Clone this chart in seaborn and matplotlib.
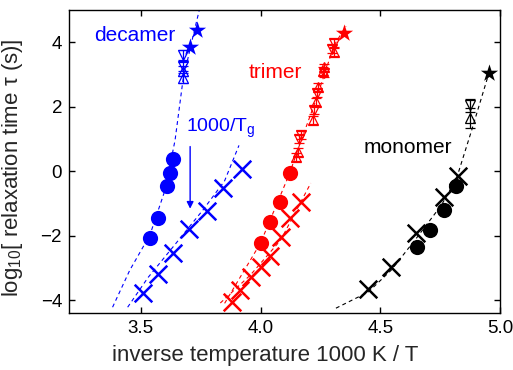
import numpy as np
import matplotlib
matplotlib.use('Agg')
import matplotlib.pyplot as plt
import seaborn as sns
import pandas as pd

sns.set_style('ticks')
plt.rcParams['font.family'] = ['Liberation Sans', 'DejaVu Sans']
plt.rcParams['mathtext.fontset'] = 'custom'
plt.rcParams['mathtext.rm'] = 'Liberation Sans'
plt.rcParams['mathtext.it'] = 'Liberation Sans:italic'

# ---- decamer (blue) ----
dec_star_x = [3.735, 3.706]
dec_star_y = [4.37, 3.85]
dec_down_x = [3.676, 3.676]
dec_down_y = [3.60, 3.25]
dec_down_err = [0.15, 0.15]
dec_up_x = [3.676, 3.676]
dec_up_y = [3.10, 2.88]
dec_up_err = [0.15, 0.15]
dec_circ_x = [3.634, 3.622, 3.609, 3.571, 3.538]
dec_circ_y = [0.37, -0.06, -0.47, -1.46, -2.08]
dec_x_x = [3.924, 3.845, 3.777, 3.702, 3.634, 3.571, 3.508]
dec_x_y = [0.06, -0.53, -1.24, -1.80, -2.54, -3.19, -3.78]
dec_fit_x = [3.382, 3.454, 3.538, 3.601, 3.643, 3.676, 3.714, 3.744]
dec_fit_y = [-4.22, -3.07, -1.98, -0.59, 0.96, 2.82, 4.06, 4.99]
dec_xfit_x = [3.445, 3.53, 3.64, 3.76, 3.85, 3.91]
dec_xfit_y = [-4.22, -3.3, -2.3, -1.2, -0.3, 0.8]

# ---- trimer (red) ----
tri_star_x = [4.349]
tri_star_y = [4.28]
tri_down_x = [4.307, 4.300, 4.265, 4.235, 4.223, 4.168, 4.160]
tri_down_y = [3.97, 3.80, 3.04, 2.42, 1.89, 1.12, 1.00]
tri_up_x = [4.307, 4.265, 4.260, 4.239, 4.231, 4.218, 4.155, 4.150]
tri_up_y = [3.69, 3.22, 3.10, 2.60, 2.14, 1.58, 0.60, 0.45]
tri_err = 0.12
tri_circ_x = [4.122, 4.080, 4.038, 4.000]
tri_circ_y = [-0.06, -0.96, -1.58, -2.23]
tri_x_x = [4.168, 4.122, 4.084, 4.038, 4.004, 3.962, 3.916, 3.882]
tri_x_y = [-0.96, -1.46, -2.05, -2.64, -2.98, -3.29, -3.69, -4.06]
tri_fit_x = [3.85, 4.0, 4.122, 4.155, 4.231, 4.307, 4.357]
tri_fit_y = [-4.1, -2.23, -0.06, 0.65, 2.2, 3.9, 4.5]
tri_xfit_x = [3.832, 3.958, 4.084, 4.21]
tri_xfit_y = [-4.09, -3.22, -2.14, -0.37]

# ---- monomer (black) ----
mon_star_x = [4.954]
mon_star_y = [3.04]
mon_down_x = [4.874]
mon_down_y = [2.05]
mon_down_err = [0.2]
mon_up_x = [4.874]
mon_up_y = [1.65]
mon_up_err = [0.3]
mon_circ_x = [4.815, 4.765, 4.706, 4.655]
mon_circ_y = [-0.47, -1.21, -1.83, -2.36]
mon_x_x = [4.824, 4.765, 4.651, 4.546, 4.450]
mon_x_y = [-0.16, -0.81, -1.92, -2.98, -3.66]
mon_fit_x = [4.315, 4.450, 4.546, 4.651, 4.756, 4.819, 4.882, 4.954]
mon_fit_y = [-4.25, -3.75, -3.07, -2.08, -1.05, -0.22, 1.27, 3.04]

fig = plt.figure(figsize=(5.13, 3.70), dpi=100)
ax = fig.add_axes([0.1345, 0.154, 0.840, 0.819])


def draw_set(color, star, down, up, circ, xs, fits):
    for fx, fy in fits:
        sns.lineplot(x=fx, y=fy, sort=False, ax=ax, color=color,
                     linestyle=(0, (3.5, 3)), linewidth=0.8)
    for (tx, ty, terr), m in ((down, 'v'), (up, '^')):
        ax.errorbar(tx, ty, yerr=terr, fmt=m, mfc='none', mec=color,
                    ecolor=color, ms=7, mew=0.9, elinewidth=0.9,
                    capsize=3.5, capthick=0.9)
    sns.scatterplot(x=circ[0], y=circ[1], ax=ax, color=color, s=120,
                    marker='o', edgecolor=color, linewidth=0)
    sns.scatterplot(x=xs[0], y=xs[1], ax=ax, color=color, s=160,
                    marker='x', linewidth=1.8)
    sns.scatterplot(x=star[0], y=star[1], ax=ax, color=color, s=170,
                    marker='*', edgecolor=color, linewidth=0)


draw_set('#0000ff', (dec_star_x, dec_star_y),
         (dec_down_x, dec_down_y, dec_down_err),
         (dec_up_x, dec_up_y, dec_up_err),
         (dec_circ_x, dec_circ_y), (dec_x_x, dec_x_y),
         [(dec_fit_x, dec_fit_y), (dec_xfit_x, dec_xfit_y)])
draw_set('#ff0000', (tri_star_x, tri_star_y),
         (tri_down_x, tri_down_y, [tri_err] * len(tri_down_x)),
         (tri_up_x, tri_up_y, [tri_err] * len(tri_up_x)),
         (tri_circ_x, tri_circ_y), (tri_x_x, tri_x_y),
         [(tri_fit_x, tri_fit_y), (tri_xfit_x, tri_xfit_y)])
draw_set('black', (mon_star_x, mon_star_y),
         (mon_down_x, mon_down_y, mon_down_err),
         (mon_up_x, mon_up_y, mon_up_err),
         (mon_circ_x, mon_circ_y), (mon_x_x, mon_x_y),
         [(mon_fit_x, mon_fit_y)])

# labels
ax.text(3.307, 4.2, 'decamer', color='#0000ff', fontsize=15, va='center')
ax.text(3.95, 3.07, 'trimer', color='#ff0000', fontsize=15, va='center')
ax.text(4.429, 0.74, 'monomer', color='black', fontsize=15, va='center')
ax.text(3.689, 1.33, '1000/T$_\\mathrm{g}$', color='#0000ff', fontsize=14,
        va='center')
ax.annotate('', xy=(3.706, -1.25), xytext=(3.706, 0.85),
            arrowprops=dict(arrowstyle='-|>', color='#0000ff', lw=1.0,
                            mutation_scale=10))

ax.set_xlim(3.2, 5.0)
ax.set_ylim(-4.4, 5.0)
ax.set_xticks([3.5, 4.0, 4.5, 5.0])
ax.set_xticklabels(['3.5', '4.0', '4.5', '5.0'])
ax.set_yticks([-4, -2, 0, 2, 4])
ax.tick_params(direction='in', length=4, width=1, top=True, right=True,
               labelsize=13.5, colors='black', pad=5)
for s in ax.spines.values():
    s.set_linewidth(1.0)
    s.set_color('black')
ax.set_xlabel('inverse temperature 1000 K / T', fontsize=16)
ax.set_ylabel('log$_{10}$[ relaxation time τ (s)]', fontsize=16)
ax.xaxis.set_label_coords(0.455, -0.105)
ax.yaxis.set_label_coords(-0.103, 0.48)

fig.savefig('out.png', dpi=100)
